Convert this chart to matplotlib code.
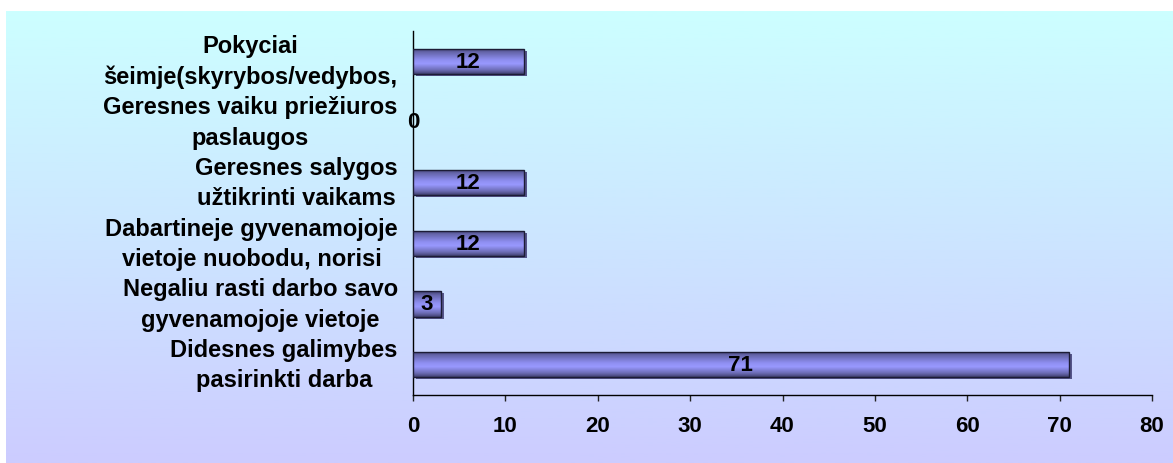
import numpy as np
import matplotlib
matplotlib.use("Agg")
import matplotlib.pyplot as plt
import matplotlib.transforms as mtransforms
from matplotlib.colors import LinearSegmentedColormap

# Survey answers (bottom to top) and their shares
categories = [
    "Didesnes galimybes\npasirinkti darba",
    "Negaliu rasti darbo savo\ngyvenamojoje vietoje",
    "Dabartineje gyvenamojoje\nvietoje nuobodu, norisi",
    "Geresnes salygos\nužtikrinti vaikams",
    "Geresnes vaiku priežiuros\npaslaugos",
    "Pokyciai\nšeimje(skyrybos/vedybos,",
]
values = [71, 3, 12, 12, 0, 12]
xticks = [0, 10, 20, 30, 40, 50, 60, 70, 80]

plt.rcParams['font.family'] = ['Liberation Sans', 'DejaVu Sans']
plt.rcParams['font.weight'] = 'bold'

W, H = 1173, 464
fig = plt.figure(figsize=(W / 100, H / 100), dpi=100)

# Backdrop: cyan-to-lavender vertical gradient panel
grad = np.linspace(0, 1, 256).reshape(-1, 1)
bg = fig.add_axes([6 / W, 0, 1 - 6 / W, (H - 12) / H], zorder=0)
bg_cmap = LinearSegmentedColormap.from_list('bg', ['#CCFFFF', '#CCCCFF'])
bg.imshow(grad, aspect='auto', cmap=bg_cmap, extent=[0, 1, 0, 1], origin='upper')
bg.axis('off')

ax = fig.add_axes([413 / W, (H - 396) / H, (1152 - 413) / W, 364 / H], zorder=1)
ax.patch.set_alpha(0)

ypos = np.arange(len(values))
h = 0.42

# Drop shadow behind each bar
shadow_tr = mtransforms.offset_copy(ax.transData, fig=fig, x=3, y=-2, units='dots')
shadows = ax.barh(ypos, values, height=h, color='#55558a', linewidth=0, zorder=2)
for p in shadows:
    p.set_transform(shadow_tr)
    if p.get_width() == 0:
        p.set_visible(False)

# Bars with cylinder-like shading
bar_cmap = LinearSegmentedColormap.from_list(
    'bar', [(0, '#3f3f6e'), (0.15, '#6464a8'), (0.45, '#8e8ef0'),
            (0.6, '#9999ff'), (0.85, '#6c6cb4'), (1, '#3f3f6e')])
bars = ax.barh(ypos, values, height=h, fill=False, edgecolor='#1c1c36',
               linewidth=1.0, zorder=4)
for p, v in zip(bars, values):
    if v == 0:
        p.set_visible(False)
        continue
    x0, y0 = p.get_x(), p.get_y()
    im = ax.imshow(grad, extent=[x0, x0 + p.get_width(), y0, y0 + p.get_height()],
                   aspect='auto', cmap=bar_cmap, origin='upper', zorder=3,
                   interpolation='bilinear')
    im.set_clip_path(p)

for y, v in zip(ypos, values):
    ax.text(v / 2, y, str(v), ha='center', va='center', fontsize=16,
            fontweight='bold', zorder=5, clip_on=False)

ax.set_xlim(0, 80)
ax.set_ylim(-0.5, len(values) - 0.5)
ax.set_xticks(xticks)
ax.set_xticklabels([str(t) for t in xticks], fontsize=16, fontweight='bold')
ax.set_yticks(ypos)
ax.set_yticklabels(categories, fontsize=17, fontweight='bold')
for t in ax.get_yticklabels():
    t.set_multialignment('center')
    t.set_linespacing(1.42)
    t.set_verticalalignment('center')

for s in ['top', 'right']:
    ax.spines[s].set_visible(False)
for s in ['left', 'bottom']:
    ax.spines[s].set_color('black')
    ax.spines[s].set_linewidth(1.0)

ax.tick_params(axis='x', direction='out', length=4.5, width=1, color='#222222', pad=10)
ax.tick_params(axis='y', length=0, pad=11)

fig.savefig('out.png', dpi=100, facecolor='white')
